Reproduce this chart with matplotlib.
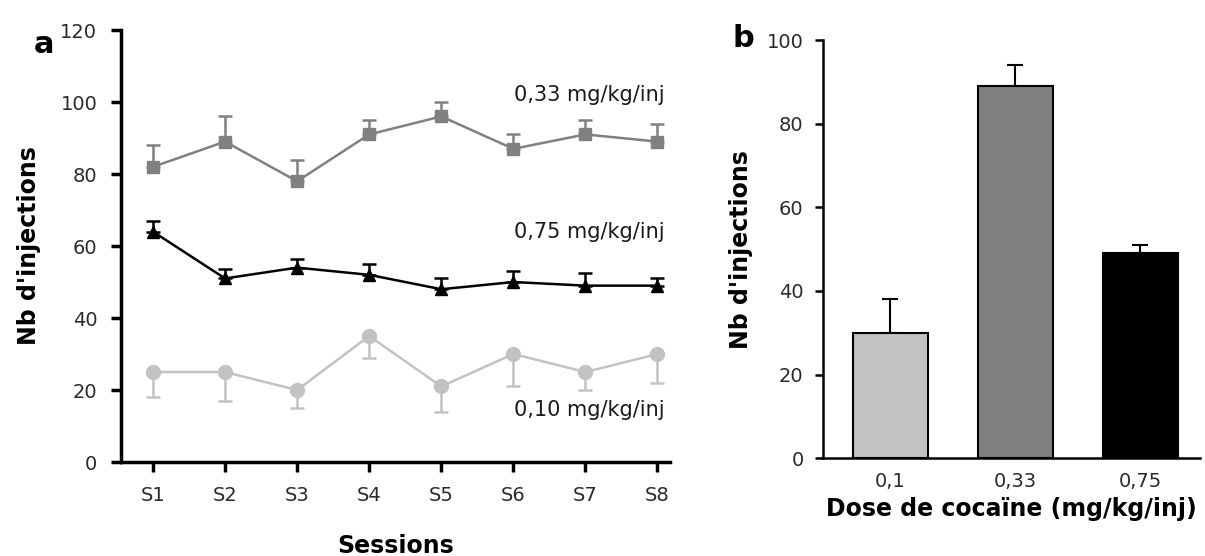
import matplotlib
matplotlib.use("Agg")
import matplotlib.pyplot as plt

plt.rcParams["font.family"] = ["DejaVu Sans"]

# panel a: sessions
sessions = ["S1", "S2", "S3", "S4", "S5", "S6", "S7", "S8"]
dose033 = [82, 89, 78, 91, 96, 87, 91, 89]
dose033_err = [6, 7, 6, 4, 4, 4, 4, 5]
dose075 = [64, 51, 54, 52, 48, 50, 49, 49]
dose075_err = [3, 2.5, 2.5, 3, 3, 3, 3.5, 2]
dose010 = [25, 25, 20, 35, 21, 30, 25, 30]
dose010_err = [7, 8, 5, 6, 7, 9, 5, 8]

# panel b: mean per dose
doses = ["0,1", "0,33", "0,75"]
dose_means = [30, 89, 49]
dose_err = [8, 5, 2]

LIGHT = "#c2c2c2"
MID = "#808080"
tick_color = "#2a2a2a"

fig = plt.figure(figsize=(12.05, 5.56), dpi=100)

ax = fig.add_axes([0.1004, 0.169, 0.456, 0.777])
x = list(range(1, len(sessions) + 1))

ax.errorbar(x, dose033, yerr=[[0] * 8, dose033_err], color=MID, marker="s",
            markersize=9, lw=1.8, capsize=5, capthick=1.8, elinewidth=1.8)
ax.errorbar(x, dose075, yerr=[[0] * 8, dose075_err], color="black", marker="^",
            markersize=9, lw=1.8, capsize=5, capthick=1.8, elinewidth=1.8)
ax.errorbar(x, dose010, yerr=[dose010_err, [0] * 8], color=LIGHT, marker="o",
            markersize=10, lw=1.8, capsize=5, capthick=1.8, elinewidth=1.8)

ax.text(8.1, 102, "0,33 mg/kg/inj", ha="right", va="center", fontsize=15, color="#1a1a1a")
ax.text(8.1, 64, "0,75 mg/kg/inj", ha="right", va="center", fontsize=15, color="#1a1a1a")
ax.text(8.1, 14.5, "0,10 mg/kg/inj", ha="right", va="center", fontsize=15, color="#1a1a1a")

ax.set_xlim(0.556, 8.18)
ax.set_ylim(0, 120)
ax.set_xticks(x)
ax.set_xticklabels(sessions)
ax.set_yticks(range(0, 121, 20))
ax.spines["top"].set_visible(False)
ax.spines["right"].set_visible(False)
for s in ["left", "bottom"]:
    ax.spines[s].set_linewidth(2.5)
ax.tick_params(axis="both", direction="out", width=2.5, length=7,
               labelsize=14, labelcolor=tick_color)
ax.tick_params(axis="x", pad=10)
ax.tick_params(axis="y", pad=10)
ax.set_xlabel("Sessions", fontsize=17, fontweight="bold", labelpad=21)
ax.set_ylabel("Nb d'injections", fontsize=17, fontweight="bold", labelpad=14)
fig.text(0.028, 0.905, "a", fontsize=22, fontweight="bold")

bx = fig.add_axes([0.683, 0.176, 0.313, 0.752])
pos = list(range(len(doses)))
bx.bar(pos, dose_means, width=0.6, color=[LIGHT, MID, "black"],
       edgecolor="black", linewidth=1.5, zorder=2)
bx.errorbar(pos, dose_means, yerr=[[0] * 3, dose_err], fmt="none",
            ecolor="black", elinewidth=1.5, capsize=6, capthick=1.5, zorder=1)
bx.set_xlim(-0.536, 2.48)
bx.set_ylim(0, 100)
bx.set_xticks(pos)
bx.set_xticklabels(doses)
bx.set_yticks(range(0, 101, 20))
bx.spines["top"].set_visible(False)
bx.spines["right"].set_visible(False)
for s in ["left", "bottom"]:
    bx.spines[s].set_linewidth(1.8)
bx.tick_params(axis="y", direction="out", width=1.8, length=6,
               labelsize=14, labelcolor=tick_color, pad=8)
bx.tick_params(axis="x", length=0, labelsize=14, labelcolor=tick_color, pad=10)
bx.set_xlabel("Dose de cocaïne (mg/kg/inj)", fontsize=17, fontweight="bold", labelpad=4)
bx.set_ylabel("Nb d'injections", fontsize=17, fontweight="bold", labelpad=10)
fig.text(0.608, 0.915, "b", fontsize=22, fontweight="bold")

fig.savefig("out.png", dpi=100)
